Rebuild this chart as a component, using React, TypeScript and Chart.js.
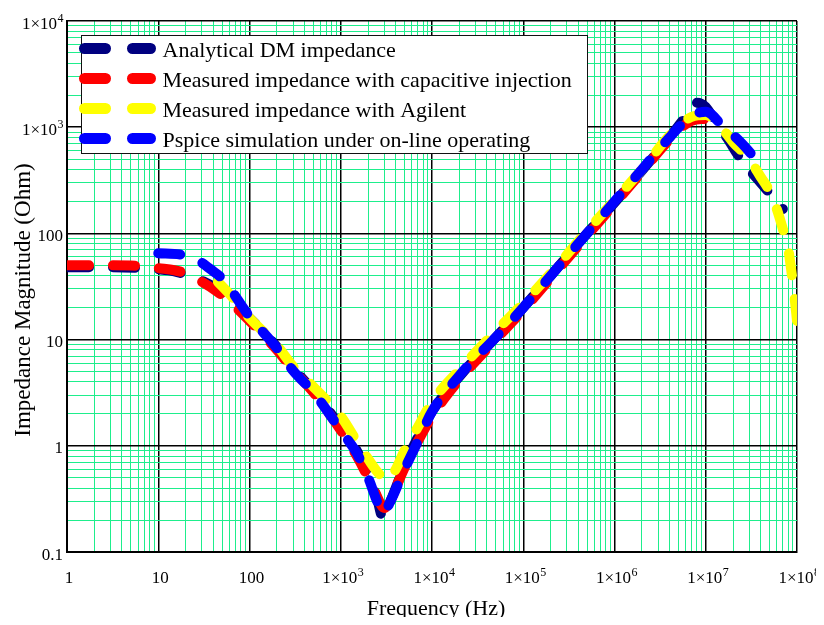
import React, { useEffect, useRef } from 'react';
import { Chart, registerables } from 'chart.js';

Chart.register(...registerables);

// ---- data ----
const analyticalFreq = [1, 3, 7, 10, 15, 20, 30, 50, 100, 200, 300, 500, 1000, 1500, 2000, 2500, 2900, 3500, 5000, 7000, 1e4, 2e4, 5e4, 1e5, 2e5, 5e5, 1e6, 2e6, 4e6, 6e6, 8e6, 1e7, 1.3e7, 1.7e7, 2.5e7, 4e7, 7e7];
const analyticalZ = [48, 48, 47, 46, 44, 41, 36, 28, 16, 8.5, 5.4, 3.3, 1.5, 0.9, 0.55, 0.32, 0.21, 0.3, 0.65, 1.2, 2.1, 4.5, 10.5, 20, 40, 100, 195, 390, 800, 1250, 1700, 1550, 1100, 800, 480, 300, 170];

const capInjFreq = [1, 3, 7, 10, 15, 20, 30, 45, 60, 100, 200, 300, 500, 1000, 1500, 2000, 2400, 3000, 3600, 5000, 7000, 1e4, 2e4, 5e4, 1e5, 2e5, 5e5, 1e6, 2e6, 4e6, 7e6, 1e7];
const capInjZ = [50, 50, 49, 47, 45, 42, 35, 28, 23, 15, 8, 5.2, 3.2, 1.4, 0.8, 0.5, 0.36, 0.26, 0.33, 0.62, 1.1, 1.9, 4.2, 10, 19, 38, 95, 190, 380, 760, 1150, 1200];

const agilentFreq = [45, 60, 100, 200, 300, 500, 1000, 1500, 2000, 2600, 3300, 4000, 5000, 7000, 1e4, 2e4, 5e4, 1e5, 2e5, 5e5, 1e6, 2e6, 4e6, 7e6, 1e7, 1.4e7, 2e7, 3e7, 4e7, 5e7, 6e7, 7e7, 8e7, 8.8e7, 9.4e7, 1e8];
const agilentZ = [35, 27, 16, 8.8, 5.6, 3.6, 1.9, 1.1, 0.75, 0.55, 0.47, 0.6, 0.9, 1.5, 2.6, 5.2, 12, 22, 42, 105, 205, 400, 830, 1250, 1300, 1050, 720, 500, 340, 250, 170, 110, 72, 40, 25, 15];

const pspiceFreq = [10, 18, 27, 40, 51, 100, 200, 300, 500, 1000, 1500, 2000, 2500, 2900, 3500, 5000, 7000, 1e4, 2e4, 5e4, 1e5, 2e5, 5e5, 1e6, 2e6, 4e6, 6e6, 8e6, 1e7, 1.5e7, 2.5e7, 4e7];
const pspiceZ = [65, 63, 56, 44, 37, 16.5, 8.3, 5.1, 3.2, 1.4, 0.85, 0.5, 0.3, 0.23, 0.3, 0.6, 1.1, 2.1, 4.6, 10.5, 20, 40, 100, 200, 400, 800, 1150, 1350, 1400, 1050, 700, 440];

const seriesLabels = [
  'Analytical DM impedance',
  'Measured impedance with capacitive injection',
  'Measured impedance with Agilent',
  'Pspice simulation under on-line operating',
];
const seriesColors = ['#000080', '#ff0000', '#ffff00', '#0000ff'];

const xTickValues = [1, 10, 100, 1e3, 1e4, 1e5, 1e6, 1e7, 1e8];
const xTickBase = ['1', '10', '100', '1×10', '1×10', '1×10', '1×10', '1×10', '1×10'];
const xTickSup = ['', '', '', '3', '4', '5', '6', '7', '8'];

const yTickValues = [0.1, 1, 10, 100, 1e3, 1e4];
const yTickBase = ['0.1', '1', '10', '100', '1×10', '1×10'];
const yTickSup = ['', '', '', '', '3', '4'];

const xTitle = 'Frequency (Hz)';
const yTitle = 'Impedance Magnitude (Ohm)';

// ---- helpers ----
const GREEN = 'rgb(30,238,140)';
const FONT = '"Liberation Serif", "Times New Roman", serif';

function isMajor(v: number) {
  const l = Math.log10(v);
  return Math.abs(l - Math.round(l)) < 1e-9;
}

function logTicks(minExp: number, maxExp: number) {
  const out: { value: number }[] = [];
  for (let e = minExp; e < maxExp; e++) {
    for (let m = 1; m <= 9; m++) out.push({ value: parseFloat((m * Math.pow(10, e)).toPrecision(6)) });
  }
  out.push({ value: Math.pow(10, maxExp) });
  return out;
}

function drawSupLabel(ctx: CanvasRenderingContext2D, base: string, sup: string, align: 'center' | 'right', x: number, y: number) {
  ctx.font = `17px ${FONT}`;
  const bw = ctx.measureText(base).width;
  ctx.font = `12px ${FONT}`;
  const sw = sup ? ctx.measureText(sup).width : 0;
  const total = bw + sw;
  const start = align === 'center' ? x - total / 2 : x - total;
  ctx.textAlign = 'left';
  ctx.textBaseline = 'alphabetic';
  ctx.font = `17px ${FONT}`;
  ctx.fillText(base, start, y);
  if (sup) {
    ctx.font = `12px ${FONT}`;
    ctx.fillText(sup, start + bw + 0.5, y - 7);
  }
}

const overlayPlugin = {
  id: 'overlay',
  afterDraw(chart: any) {
    const ctx: CanvasRenderingContext2D = chart.ctx;
    const xs = chart.scales.x;
    const ys = chart.scales.y;
    const area = chart.chartArea;
    ctx.save();
    ctx.fillStyle = '#000';
    xTickValues.forEach((v, i) => {
      const px = xs.getPixelForValue(v);
      drawSupLabel(ctx, xTickBase[i], xTickSup[i], 'center', px + 2, area.bottom + 31);
    });
    yTickValues.forEach((v, i) => {
      const py = ys.getPixelForValue(v);
      drawSupLabel(ctx, yTickBase[i], yTickSup[i], 'right', area.left - 4, py + 7.5);
    });
    // axis titles
    ctx.font = `22px ${FONT}`;
    ctx.textAlign = 'center';
    ctx.textBaseline = 'alphabetic';
    ctx.fillText(xTitle, (area.left + area.right) / 2 + 4, area.bottom + 63);
    ctx.save();
    ctx.translate(22, 292);
    ctx.rotate(-Math.PI / 2);
    ctx.font = `23px ${FONT}`;
    ctx.fillText(yTitle, 0, 0);
    ctx.restore();

    // legend
    const bx = area.left + 14.5;
    const by = area.top + 14.5;
    const bw = 506;
    const bh = 118;
    ctx.fillStyle = '#fff';
    ctx.fillRect(bx, by, bw, bh);
    ctx.strokeStyle = '#111';
    ctx.lineWidth = 1;
    ctx.strokeRect(bx, by, bw, bh);
    seriesLabels.forEach((label, i) => {
      const cy = by + 13 + i * 30;
      ctx.save();
      ctx.strokeStyle = seriesColors[i];
      ctx.lineWidth = 11;
      ctx.lineCap = 'round';
      ctx.setLineDash([21, 27]);
      ctx.beginPath();
      ctx.moveTo(bx + 3, cy);
      ctx.lineTo(bx + 69, cy);
      ctx.stroke();
      ctx.restore();
      ctx.fillStyle = '#000';
      ctx.font = `22px ${FONT}`;
      ctx.textAlign = 'left';
      ctx.textBaseline = 'alphabetic';
      ctx.fillText(label, bx + 81, cy + 8);
    });
    ctx.restore();
  },
};

function makeData(f: number[], z: number[]) {
  return f.map((x, i) => ({ x, y: z[i] }));
}

export default function App() {
  const ref = useRef<HTMLCanvasElement | null>(null);
  useEffect(() => {
    if (!ref.current) return;
    const pairs = [
      [analyticalFreq, analyticalZ],
      [capInjFreq, capInjZ],
      [agilentFreq, agilentZ],
      [pspiceFreq, pspiceZ],
    ];
    const datasets = pairs.map((p, i) => ({
      label: seriesLabels[i],
      data: makeData(p[0], p[1]),
      borderColor: seriesColors[i],
      backgroundColor: seriesColors[i],
      borderWidth: 10,
      borderDash: [22, 24],
      borderCapStyle: 'round' as const,
      borderJoinStyle: 'round' as const,
      pointRadius: 0,
      cubicInterpolationMode: 'monotone' as const,
      fill: false,
      clip: 0,
      order: 4 - i,
    }));
    const gridColor = (c: any) => (c.tick && isMajor(c.tick.value) ? '#000' : GREEN);
    const gridWidth = (c: any) => (c.tick && isMajor(c.tick.value) ? 1.5 : 1);
    const chart = new Chart(ref.current, {
      type: 'line',
      data: { datasets },
      plugins: [overlayPlugin],
      options: {
        animation: false,
        responsive: true,
        maintainAspectRatio: false,
        layout: { padding: { left: 0, right: 27, top: 13, bottom: 0 } },
        plugins: { legend: { display: false }, tooltip: { enabled: false } },
        scales: {
          x: {
            type: 'logarithmic',
            min: 1,
            max: 1e8,
            afterBuildTicks: (s: any) => { s.ticks = logTicks(0, 8); },
            afterFit: (s: any) => { s.height = 73; },
            ticks: { display: false, autoSkip: false },
            grid: { color: gridColor, lineWidth: gridWidth, drawTicks: false, tickLength: 0 },
            border: { display: true, color: '#000', width: 2 },
          },
          y: {
            type: 'logarithmic',
            min: 0.1,
            max: 1e4,
            afterBuildTicks: (s: any) => { s.ticks = logTicks(-1, 4); },
            afterFit: (s: any) => { s.width = 59; },
            ticks: { display: false, autoSkip: false },
            grid: { color: gridColor, lineWidth: gridWidth, drawTicks: false, tickLength: 0 },
            border: { display: true, color: '#000', width: 2 },
          },
        },
      } as any,
    });
    return () => chart.destroy();
  }, []);
  return (
    <div style={{ width: 816, height: 617, marginBottom: -8, marginRight: -8, position: 'relative' }}>
      <canvas ref={ref} />
    </div>
  );
}
